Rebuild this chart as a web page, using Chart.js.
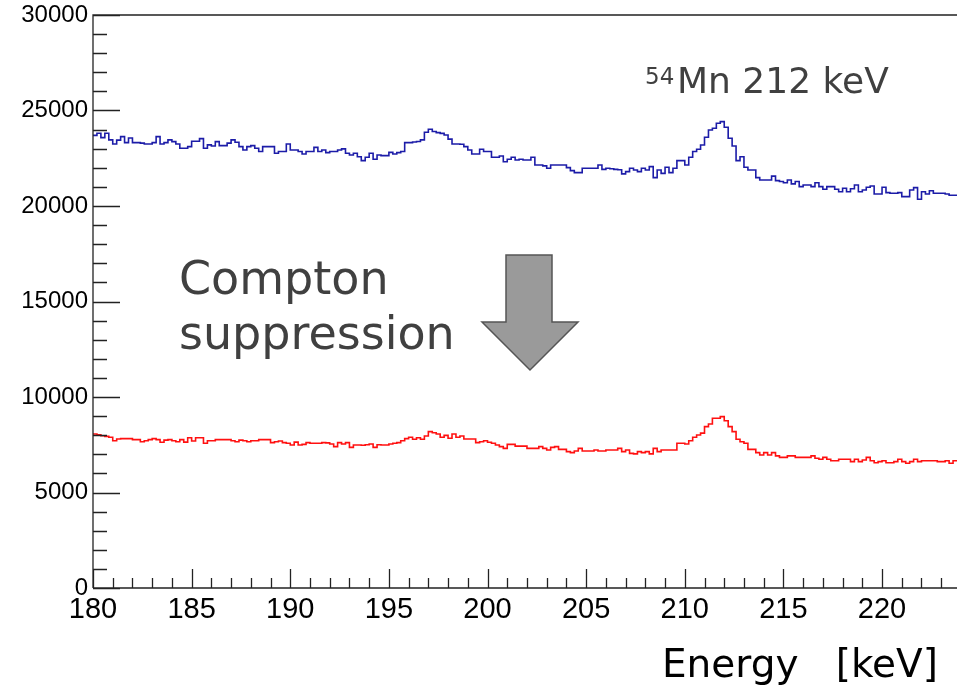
<!DOCTYPE html>
<html><head><meta charset="utf-8">
<script src="https://cdn.jsdelivr.net/npm/chart.js@4/dist/chart.umd.min.js"></script>
<style>html,body{margin:0;padding:0;background:#fff;overflow:hidden}#wrap{width:957px;height:688px;position:relative}</style>
</head><body><div id="wrap"><canvas id="c" width="957" height="688"></canvas></div>
<script>
// ---- data ----
const BIN_START = 180;      // keV, low edge of first bin
const BIN_WIDTH = 0.2;      // keV
const X_MIN = 180, X_MAX = 223.8;
const Y_MIN = 0, Y_MAX = 30000;
const xTickLabels = [180, 185, 190, 195, 200, 205, 210, 215, 220];
const yTickLabels = [0, 5000, 10000, 15000, 20000, 25000, 30000];
const xTitle = "Energy   [keV]";
const peakLabel = "Mn 212 keV";
const peakLabelSup = "54";
const arrowLabel = ["Compton", "suppression"];

// counts per bin, without Compton suppression (blue)
const blueCounts = [
 23700, 23810, 23580, 23810, 23460, 23250, 23450, 23630, 23320, 23560,
 23320, 23320, 23290, 23250, 23250, 23320, 23630, 23250, 23320, 23460,
 23370, 23250, 23020, 23020, 23110, 23390, 23390, 23530, 23020, 23200,
 23140, 23370, 23160, 23160, 23290, 23460, 23340, 23110, 22930, 23110,
 23160, 23020, 22850, 23110, 23110, 23110, 22760, 22850, 22850, 23250,
 22930, 22930, 22850, 22720, 22850, 22850, 23070, 22850,
 22930, 22795, 22850, 22850, 22930, 22990, 22760, 22670, 22760, 22580,
 22375, 22550, 22760, 22450, 22670, 22640, 22640, 22810, 22725, 22795,
 22850, 23320, 23320, 23350, 23380, 23460, 23860, 24015, 23900, 23840,
 23800, 23720, 23500, 23250, 23250, 23230, 23110, 22930, 22725, 22725,
 22970, 22850, 22850, 22550, 22550, 22620, 22320, 22450, 22550, 22410,
 22450, 22410, 22410, 22550, 22150, 22150, 22100, 21975, 22150, 22150,
 22150, 22150, 22010, 21850, 21745, 21745, 21975, 21975, 21975, 21975,
 22150, 21920, 21975, 21950, 21920, 21900, 21680, 21800,
 21975, 21885, 21800, 21975, 21885, 22060, 21485, 21885, 21710, 22030,
 21745, 21975, 22375, 22375, 22150, 22550, 22850, 22970, 23195, 23600,
 23980, 24070, 24330, 24415, 24120, 23545, 23145, 22375, 22580, 22030,
 21885, 21885, 21485, 21365, 21365, 21365, 21565, 21330, 21280, 21220,
 21365, 21160, 21280, 21015, 21100, 21100, 21015, 21220, 21015, 20875,
 21015, 21015, 20875, 20750, 20930, 20750, 20900, 21100, 20750, 20840,
 20980, 21050, 20630, 20630, 20980, 20700, 20665, 20665, 20700, 20490,
 20490, 20840, 20960, 20350, 20750, 20630, 20800, 20665, 20665, 20665,
 20630, 20560, 20560
];

// counts per bin, with Compton suppression (red)
const redCounts = [
 8063, 8020, 7970, 7940, 7890, 7713, 7800, 7820, 7820, 7820,
 7770, 7770, 7660, 7713, 7770, 7820, 7770, 7630, 7740, 7770,
 7713, 7660, 7770, 7640, 7870, 7700, 7870, 7870, 7575, 7713,
 7713, 7770, 7770, 7770, 7770, 7713, 7660, 7740, 7713, 7660,
 7713, 7713, 7770, 7770, 7770, 7610, 7660, 7700, 7610, 7575,
 7490, 7640, 7490, 7520, 7610, 7575, 7575, 7575, 7610, 7600,
 7540, 7400, 7610, 7540, 7610, 7365, 7490, 7490, 7470, 7500,
 7540, 7365, 7500, 7490, 7490, 7540, 7575, 7610, 7713, 7820,
 7890, 7790, 7870, 7790, 7960, 8185, 8130, 8060, 7890, 7990,
 7840, 8060, 7890, 7960, 7800, 7800, 7800, 7610, 7660, 7713,
 7630, 7575, 7490, 7400, 7310, 7520, 7520, 7430, 7430, 7430,
 7310, 7310, 7310, 7400, 7310, 7225, 7365, 7400, 7260, 7260,
 7140, 7090, 7175, 7310, 7175, 7175, 7175, 7225, 7175, 7175,
 7225, 7225, 7225, 7310, 7140, 7225, 7050, 7020, 7140, 7090,
 7140, 7020, 7310, 7140, 7225, 7225, 7225, 7225, 7575, 7575,
 7540, 7713, 7890, 8010, 8110, 8450, 8590, 8885, 8885, 8970,
 8760, 8450, 8185, 7790, 7660, 7575, 7260, 7260, 7090, 6965,
 7090, 6965, 7090, 6915, 6840, 6840, 6915, 6915, 6840, 6840,
 6840, 6840, 6915, 6790, 6740, 6840, 6740, 6665, 6665, 6740,
 6740, 6740, 6615, 6740, 6615, 6700, 6840, 6665, 6560, 6615,
 6665, 6560, 6560, 6615, 6740, 6615, 6530, 6615, 6740, 6615,
 6665, 6665, 6665, 6665, 6615, 6615, 6665, 6530, 6665
];

// ---- build step points (low edges + closing upper edge) ----
function toSteps(counts) {
  const pts = counts.map((v, i) => ({ x: BIN_START + i * BIN_WIDTH, y: v }));
  pts.push({ x: BIN_START + counts.length * BIN_WIDTH, y: counts[counts.length - 1] });
  return pts;
}

const rootFrame = {
  id: 'rootFrame',
  afterDatasetsDraw(chart) {
    const { ctx, chartArea: a, scales: { x, y } } = chart;
    ctx.save();
    ctx.strokeStyle = '#222';
    ctx.lineWidth = 1.3;
    ctx.beginPath();
    ctx.moveTo(a.left, a.bottom); ctx.lineTo(a.right + 2, a.bottom);
    ctx.moveTo(a.left, a.bottom); ctx.lineTo(a.left, a.top);
    ctx.lineTo(a.right + 2, a.top);
    for (let v = Math.ceil(X_MIN); v <= X_MAX; v += 1) {
      const px = Math.round(x.getPixelForValue(v)) + 0.5;
      const len = (v % 5 === 0) ? 19 : 10;
      ctx.moveTo(px, a.bottom); ctx.lineTo(px, a.bottom - len);
    }
    for (let v = Y_MIN; v <= Y_MAX; v += 1000) {
      const py = Math.round(y.getPixelForValue(v)) + 0.5;
      const len = (v % 5000 === 0) ? 27 : 14;
      ctx.moveTo(a.left, py); ctx.lineTo(a.left + len, py);
    }
    ctx.stroke();
    ctx.restore();
  },
  afterDraw(chart) {
    const { ctx } = chart;
    ctx.save();
    ctx.fillStyle = '#000';
    ctx.font = '39px "DejaVu Sans"';
    ctx.textAlign = 'right';
    ctx.textBaseline = 'alphabetic';
    ctx.fillText(xTitle, 938, 677);
    ctx.fillStyle = '#404040';
    ctx.textAlign = 'left';
    ctx.font = '23px "DejaVu Sans"';
    ctx.fillText(peakLabelSup, 645, 84);
    ctx.font = '36px "DejaVu Sans"';
    ctx.fillText(peakLabel, 677, 93);
    ctx.font = '46px "DejaVu Sans"';
    ctx.fillText(arrowLabel[0], 179, 294);
    ctx.fillText(arrowLabel[1], 179, 349);
    ctx.beginPath();
    ctx.moveTo(506, 255); ctx.lineTo(552, 255); ctx.lineTo(552, 322);
    ctx.lineTo(578, 322); ctx.lineTo(530, 370); ctx.lineTo(482, 322);
    ctx.lineTo(506, 322); ctx.closePath();
    ctx.fillStyle = '#9a9a9a';
    ctx.fill();
    ctx.strokeStyle = '#555';
    ctx.lineWidth = 1.5;
    ctx.stroke();
    ctx.restore();
  }
};

function noPad(s) { s.paddingTop = 0; s.paddingBottom = 0; s.paddingLeft = 0; s.paddingRight = 0; }

new Chart(document.getElementById('c'), {
  type: 'line',
  data: {
    datasets: [
      { label: 'without suppression', data: toSteps(blueCounts), borderColor: '#1c1ca8', borderWidth: 1.6,
        pointRadius: 0, stepped: true, fill: false, tension: 0 },
      { label: 'with suppression', data: toSteps(redCounts), borderColor: '#ff1010', borderWidth: 1.6,
        pointRadius: 0, stepped: true, fill: false, tension: 0 }
    ]
  },
  options: {
    responsive: false, animation: false, devicePixelRatio: 1,
    layout: { padding: { top: 15, right: 0, left: 0, bottom: 0 } },
    plugins: { legend: { display: false }, tooltip: { enabled: false } },
    scales: {
      x: {
        type: 'linear', min: X_MIN, max: X_MAX,
        grid: { display: false, drawTicks: false }, border: { display: false },
        ticks: { color: '#000', font: { family: 'Liberation Sans', size: 29 }, padding: 5,
                 maxRotation: 0, autoSkip: false, callback: v => String(v) },
        afterBuildTicks: s => { s.ticks = xTickLabels.map(v => ({ value: v })); },
        afterFit: s => { s.height = 100; noPad(s); }
      },
      y: {
        type: 'linear', min: Y_MIN, max: Y_MAX,
        grid: { display: false, drawTicks: false }, border: { display: false },
        ticks: { color: '#000', font: { family: 'Liberation Sans', size: 24 }, padding: 5,
                 callback: v => String(v) },
        afterBuildTicks: s => { s.ticks = yTickLabels.map(v => ({ value: v })); },
        afterFit: s => { s.width = 93; noPad(s); }
      }
    }
  },
  plugins: [rootFrame]
});
</script>
</body></html>
